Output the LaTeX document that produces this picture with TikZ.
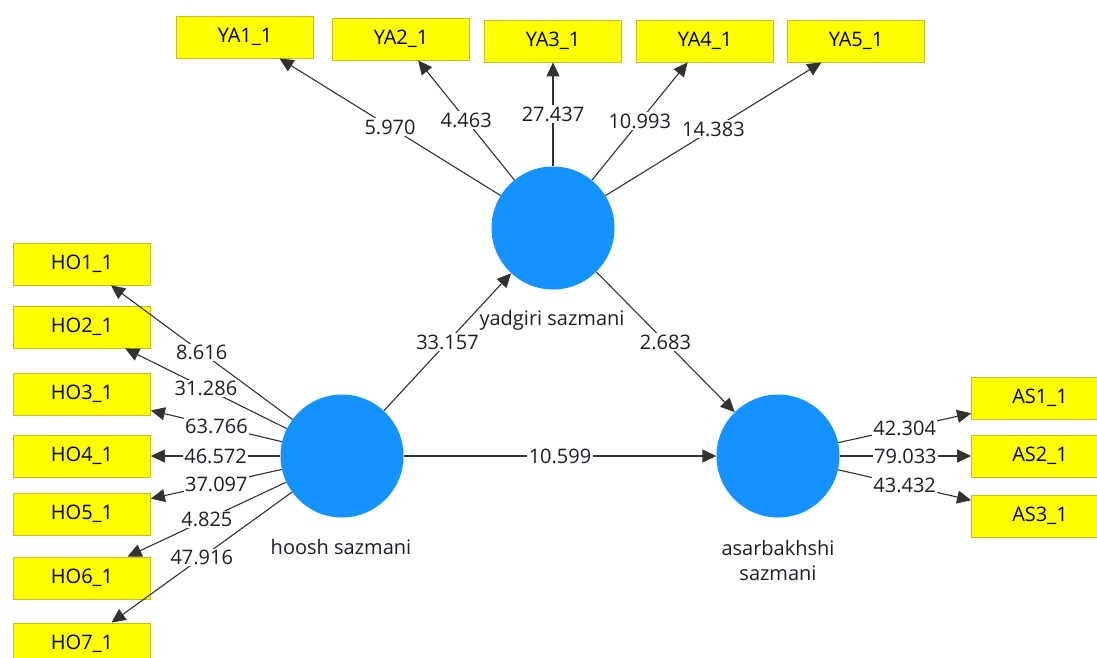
\documentclass[tikz,border=0pt]{standalone}
\usepackage{fontspec}
\setmainfont{Open Sans}
\usepackage{tikz}
\usetikzlibrary{arrows,arrows.meta,positioning}
\definecolor{latentblue}{RGB}{20,146,255}
\definecolor{boxyellow}{RGB}{255,255,0}
\definecolor{boxline}{RGB}{196,190,40}
\definecolor{linegray}{RGB}{50,50,50}
\definecolor{textgray}{RGB}{30,30,40}

\begin{document}
\begin{tikzpicture}[-{Triangle[length=14pt,width=13pt]},x=1pt,y=-1pt,
  every node/.style={font=\fontsize{20}{25}\selectfont,text=textgray}]
\tikzstyle{latent}=[circle,fill=latentblue,draw=none,minimum size=123pt,inner sep=0pt]
\tikzstyle{indicator}=[rectangle,fill=boxyellow,draw=boxline,line width=0.8pt,minimum width=137pt,minimum height=42pt,inner sep=0pt,text=black]
\tikzstyle{weight}=[fill=white,inner sep=1.5pt,midway]
\tikzstyle{every edge}=[draw=linegray,line width=1.1pt]

\useasboundingbox (0,0) rectangle (1097,657);
\clip (0,0) rectangle (1097,657);

\node [latent] (yad) at(553,228) {};
\node [latent] (hoosh) at(342,456) {};
\node [latent] (asar) at(778,456) {};

\node (yadtxt) at(552,320) {yadgiri sazmani};
\node (hooshtxt) at(341,547) {hoosh sazmani};
\node [align=center] (asartxt) at(778,560) {asarbakhshi\\sazmani};

\node [indicator] (HO1) at(82,264) {HO1\_1};
\node [indicator] (HO2) at(82,327) {HO2\_1};
\node [indicator] (HO3) at(82,394) {HO3\_1};
\node [indicator] (HO4) at(82,456) {HO4\_1};
\node [indicator] (HO5) at(82,514) {HO5\_1};
\node [indicator] (HO6) at(82,578) {HO6\_1};
\node [indicator] (HO7) at(82,644) {HO7\_1};

\node [indicator] (YA1) at(245,37) {YA1\_1};
\node [indicator] (YA2) at(401,39) {YA2\_1};
\node [indicator] (YA3) at(553,41) {YA3\_1};
\node [indicator] (YA4) at(705,41) {YA4\_1};
\node [indicator] (YA5) at(856,41) {YA5\_1};

\node [indicator] (AS1) at(1040,398) {AS1\_1};
\node [indicator] (AS2) at(1040,456) {AS2\_1};
\node [indicator] (AS3) at(1040,516) {AS3\_1};

\path (hoosh) edge node[weight] {8.616} (HO1);
\path (hoosh) edge node[weight] {31.286} (HO2);
\path (hoosh) edge node[weight] {63.766} (HO3);
\path (hoosh) edge node[weight] {46.572} (HO4);
\path (hoosh) edge node[weight] {37.097} (HO5);
\path (hoosh) edge node[weight] {4.825} (HO6);
\path (hoosh) edge node[weight] {47.916} (HO7);
\path (yad) edge node[weight] {5.970} (YA1);
\path (yad) edge node[weight] {4.463} (YA2);
\path (yad) edge node[weight] {27.437} (YA3);
\path (yad) edge node[weight] {10.993} (YA4);
\path (yad) edge node[weight] {14.383} (YA5);
\path (asar) edge node[weight] {42.304} (AS1);
\path (asar) edge node[weight] {79.033} (AS2);
\path (asar) edge node[weight] {43.432} (AS3);
\path (hoosh) edge node[weight] {33.157} (yad);
\path (yad) edge node[weight] {2.683} (asar);
\path (hoosh) edge node[weight] {10.599} (asar);
\end{tikzpicture}
\end{document}
